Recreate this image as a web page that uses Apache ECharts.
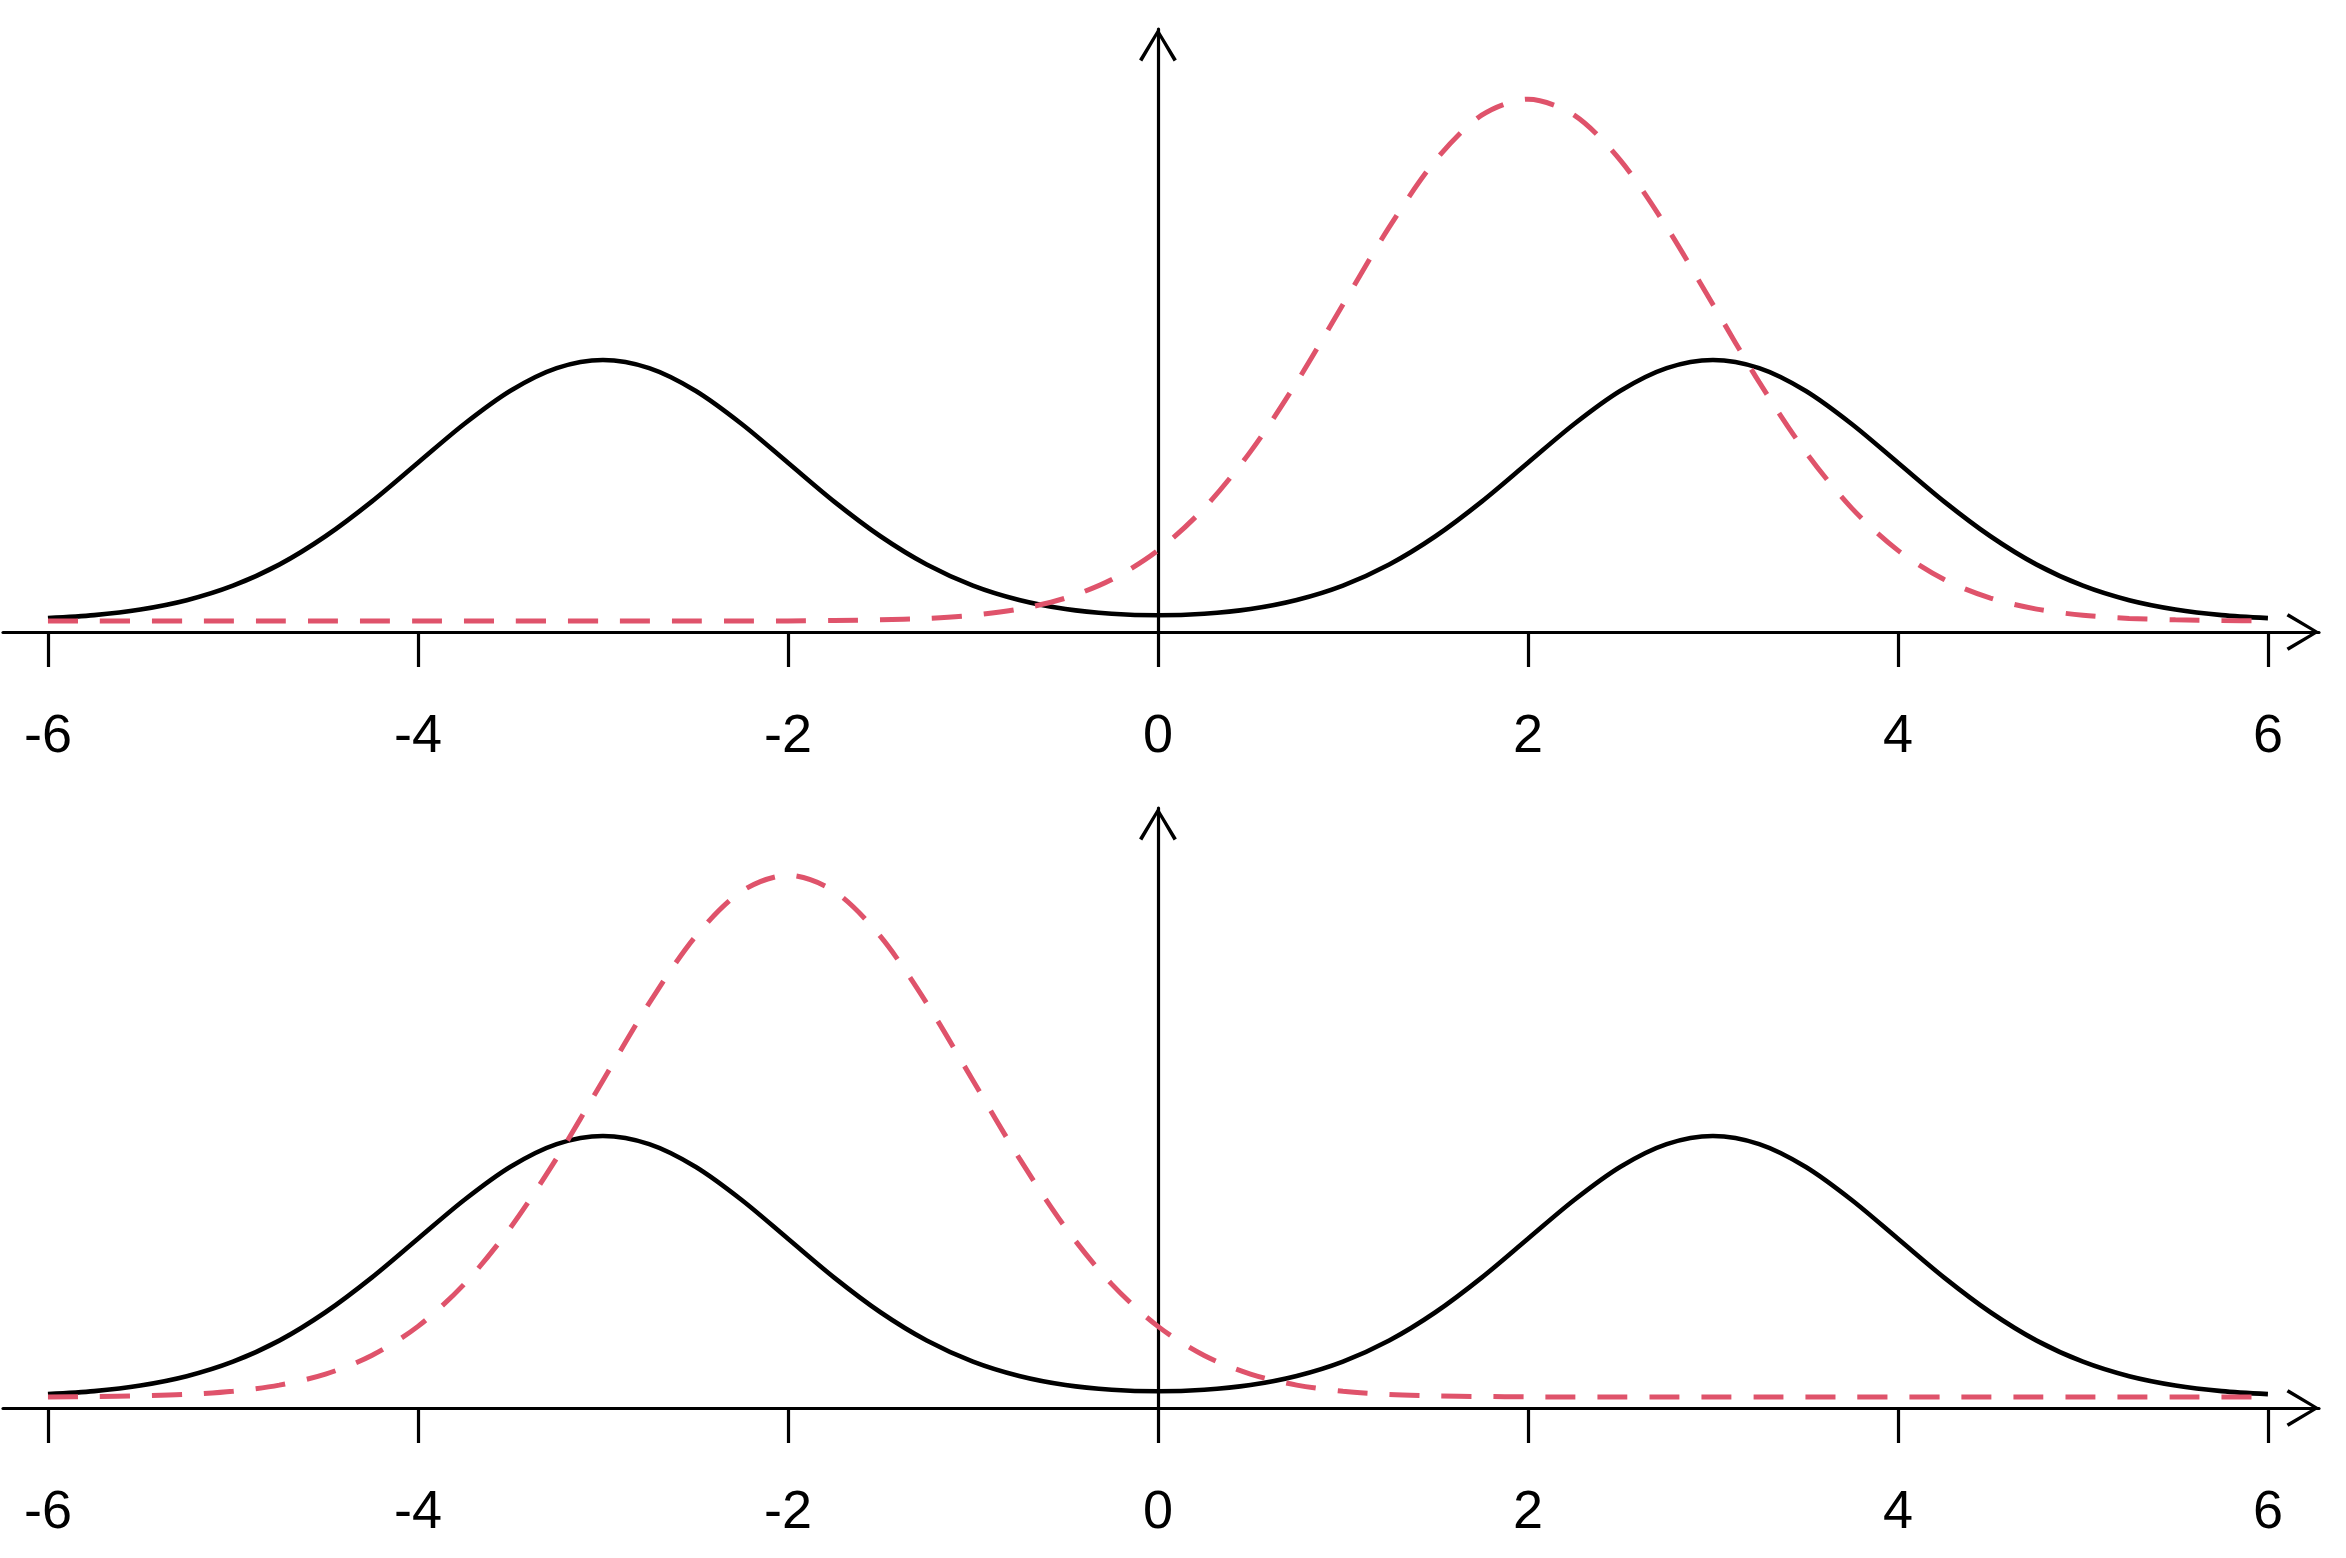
<!DOCTYPE html>
<html>
<head>
<meta charset="utf-8">
<script src="https://cdn.jsdelivr.net/npm/echarts@6/dist/echarts.min.js"></script>
<style>
html,body{margin:0;padding:0;background:#ffffff;}
#chart{width:2346px;height:1558px;}
</style>
</head>
<body>
<div id="chart"></div>
<script>
// x positions where the curves were read (step 0.25 from -6 to 6)
const xValues = [
  -6, -5.75, -5.5, -5.25, -5, -4.75, -4.5, -4.25, -4, -3.75, -3.5, -3.25, -3,
  -2.75, -2.5, -2.25, -2, -1.75, -1.5, -1.25, -1, -0.75, -0.5, -0.25, 0,
  0.25, 0.5, 0.75, 1, 1.25, 1.5, 1.75, 2, 2.25, 2.5, 2.75, 3,
  3.25, 3.5, 3.75, 4, 4.25, 4.5, 4.75, 5, 5.25, 5.5, 5.75, 6
];
// solid black bimodal curve (same in both panels)
const blackCurve = [
  0.0022, 0.0045, 0.0088, 0.0159, 0.0270, 0.0431, 0.0648, 0.0913, 0.1210, 0.1506, 0.1760, 0.1933, 0.1995,
  0.1933, 0.1760, 0.1506, 0.1210, 0.0913, 0.0648, 0.0432, 0.0271, 0.0161, 0.0092, 0.0056, 0.0044,
  0.0056, 0.0092, 0.0161, 0.0271, 0.0432, 0.0648, 0.0913, 0.1210, 0.1506, 0.1760, 0.1933, 0.1995,
  0.1933, 0.1760, 0.1506, 0.1210, 0.0913, 0.0648, 0.0431, 0.0270, 0.0159, 0.0088, 0.0045, 0.0022
];
// dashed red curve, top panel (peak near x = 2)
const redCurveTop = [
  0, 0, 0, 0, 0, 0, 0, 0, 0, 0, 0, 0, 0,
  0, 0, 0, 0.0001, 0.0004, 0.0009, 0.0020, 0.0044, 0.0091, 0.0175, 0.0317, 0.0540,
  0.0863, 0.1295, 0.1826, 0.2420, 0.3011, 0.3521, 0.3867, 0.3989, 0.3867, 0.3521, 0.3011, 0.2420,
  0.1826, 0.1295, 0.0863, 0.0540, 0.0317, 0.0175, 0.0091, 0.0044, 0.0020, 0.0009, 0.0004, 0.0001
];
// dashed red curve, bottom panel (peak near x = -2)
const redCurveBottom = [
  0.0001, 0.0004, 0.0009, 0.0020, 0.0044, 0.0091, 0.0175, 0.0317, 0.0540, 0.0863, 0.1295, 0.1826, 0.2420,
  0.3011, 0.3521, 0.3867, 0.3989, 0.3867, 0.3521, 0.3011, 0.2420, 0.1826, 0.1295, 0.0863, 0.0540,
  0.0317, 0.0175, 0.0091, 0.0044, 0.0020, 0.0009, 0.0004, 0.0001, 0, 0, 0, 0,
  0, 0, 0, 0, 0, 0, 0, 0, 0, 0, 0, 0
];
const tickValues = [-6, -4, -2, 0, 2, 4, 6];

const pairs = (ys) => xValues.map((x, i) => [x, ys[i]]);

const RED = '#DF536B';
const arrowPath = 'path://M17.5,-2.4L36.6,29L33.4,31L17.5,3.6L1.6,31L-1.6,29Z';

function makeX(gridIndex) {
  return {
    type: 'value', gridIndex: gridIndex,
    min: -6.243, max: 6.276,
    splitLine: {show: false},
    axisLine: {
      show: true, onZero: false,
      symbol: ['none', arrowPath], symbolSize: [38, 33], symbolOffset: [0, -16],
      lineStyle: {color: '#000', width: 3.2}
    },
    axisTick: {show: true, length: 35, customValues: tickValues, lineStyle: {color: '#000', width: 3.2}},
    axisLabel: {
      show: true, customValues: tickValues, margin: 78,
      fontSize: 54, color: '#000', fontFamily: 'Liberation Sans, Arial, sans-serif',
      formatter: (v) => String(v)
    }
  };
}
function makeY(gridIndex, maxV) {
  return {
    type: 'value', gridIndex: gridIndex,
    min: -0.0084, max: maxV,
    splitLine: {show: false},
    axisTick: {show: false}, axisLabel: {show: false},
    axisLine: {
      show: true, onZero: true,
      symbol: ['none', arrowPath], symbolSize: [38, 33], symbolOffset: [0, -16],
      lineStyle: {color: '#000', width: 3.2}
    }
  };
}
function solid(gi, ys) {
  return {type: 'line', xAxisIndex: gi, yAxisIndex: gi, data: pairs(ys), smooth: 0.3,
    showSymbol: false, symbol: 'none', lineStyle: {color: '#000', width: 4.6}, z: 3};
}
function dashed(gi, ys) {
  return {type: 'line', xAxisIndex: gi, yAxisIndex: gi, data: pairs(ys), smooth: 0.3,
    showSymbol: false, symbol: 'none', lineStyle: {color: RED, width: 5, type: [30, 22], cap: 'butt'}, z: 4};
}

const chart = echarts.init(document.getElementById('chart'), null, {renderer: 'canvas'});
chart.setOption({
  animation: false,
  backgroundColor: '#ffffff',
  grid: [
    {left: 3, top: 29, width: 2316, height: 603},
    {left: 3, top: 808, width: 2316, height: 600}
  ],
  xAxis: [makeX(0), makeX(1)],
  yAxis: [makeY(0, 0.4526), makeY(1, 0.4503)],
  series: [
    solid(0, blackCurve), dashed(0, redCurveTop),
    solid(1, blackCurve), dashed(1, redCurveBottom)
  ]
});
</script>
</body>
</html>
